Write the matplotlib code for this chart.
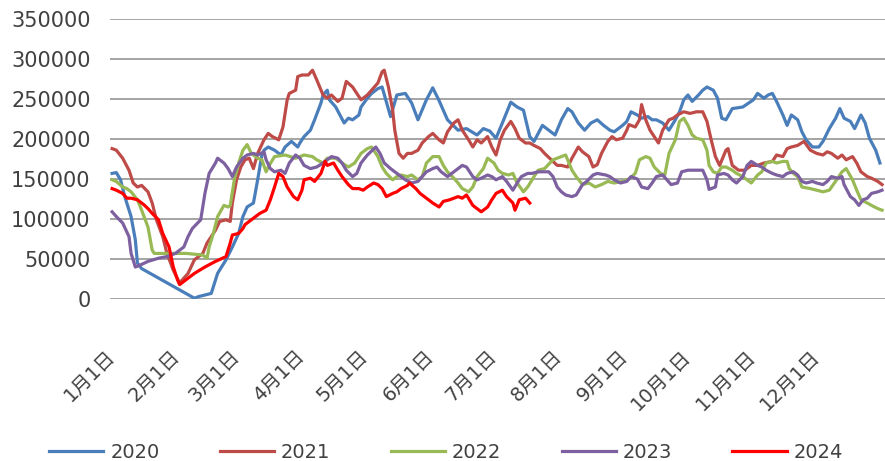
import numpy as np
import matplotlib
matplotlib.use("Agg")
import matplotlib.pyplot as plt

plt.rcParams['font.family'] = ['DejaVu Sans', 'Noto Sans CJK SC']

# day of year (0 = Jan 1) and values in thousands
days_2020 = [0, 2, 4, 6, 9, 11, 12, 14, 39, 41, 44, 47, 50, 54, 57, 60, 62, 64, 67, 69,
             71, 72, 74, 77, 80, 82, 85, 88, 89, 91, 94, 96, 99, 100, 102, 103, 106, 108, 110, 112,
             114, 117, 118, 121, 123, 126, 128, 132, 135, 139, 142, 145, 149, 152, 155, 159, 164, 168, 173, 176,
             179, 182, 185, 189, 192, 195, 198, 200, 204, 207, 210, 213, 216, 218, 221, 224, 227, 230, 233, 236,
             238, 242, 244, 246, 249, 251, 254, 256, 258, 261, 264, 267, 269, 271, 273, 275, 278, 280, 282, 285,
             287, 289, 291, 294, 299, 304, 306, 309, 311, 313, 315, 318, 320, 322, 325, 327, 329, 332, 335, 337,
             340, 343, 345, 347, 350, 352, 355, 357, 359, 362, 364]
vals_2020 = [157, 158, 149, 128, 103, 74, 45, 38, 1, 3, 5, 7, 32, 49, 65, 82, 103, 115, 120, 149,
             180, 186, 190, 186, 180, 190, 197, 190, 195, 203, 211, 224, 245, 255, 261, 249, 240, 230, 220, 226,
             224, 230, 240, 251, 257, 263, 265, 228, 255, 257, 245, 224, 249, 264, 248, 224, 211, 213, 205, 213,
             210, 201, 220, 246, 240, 236, 203, 197, 217, 211, 205, 224, 238, 234, 220, 211, 220, 224, 217, 211,
             209, 217, 222, 234, 230, 226, 228, 224, 224, 220, 211, 224, 234, 249, 255, 247, 255, 261, 265, 261,
             251, 226, 224, 238, 240, 249, 257, 251, 255, 257, 247, 230, 217, 230, 224, 209, 199, 190, 190, 197,
             213, 226, 238, 226, 222, 213, 230, 220, 201, 186, 170]

days_2021 = [0, 2, 5, 8, 10, 12, 14, 17, 19, 21, 24, 26, 29, 32, 36, 39, 43, 45, 49, 51,
             54, 56, 57, 59, 61, 63, 65, 67, 69, 72, 74, 76, 79, 81, 83, 84, 87, 88, 90, 93,
             95, 97, 100, 102, 104, 107, 109, 111, 114, 116, 118, 121, 123, 126, 128, 129, 131, 133, 134, 136,
             138, 140, 142, 145, 147, 150, 152, 155, 157, 159, 162, 164, 166, 169, 171, 173, 175, 178, 180, 182,
             184, 186, 189, 191, 193, 196, 198, 200, 203, 205, 209, 211, 213, 216, 218, 221, 223, 226, 228, 230,
             232, 235, 237, 239, 242, 244, 245, 248, 250, 251, 253, 255, 257, 259, 261, 264, 266, 268, 271, 274,
             277, 280, 282, 284, 286, 288, 291, 292, 294, 297, 300, 303, 306, 309, 313, 315, 318, 320, 322, 325,
             328, 331, 334, 337, 339, 341, 344, 346, 348, 351, 353, 355, 358, 360, 363, 365]
vals_2021 = [188, 186, 176, 161, 145, 140, 142, 134, 120, 99, 78, 57, 36, 20, 32, 49, 57, 70, 86, 97,
             99, 97, 120, 149, 165, 174, 176, 163, 182, 199, 207, 203, 199, 215, 249, 257, 261, 278, 280, 280,
             286, 274, 255, 251, 255, 247, 251, 272, 265, 257, 249, 255, 261, 270, 284, 286, 265, 236, 211, 182,
             176, 182, 182, 186, 195, 203, 207, 199, 195, 209, 220, 224, 211, 199, 190, 199, 195, 203, 190, 180,
             199, 211, 222, 213, 201, 195, 195, 192, 188, 182, 172, 167, 167, 165, 176, 190, 184, 178, 165, 168,
             182, 197, 203, 199, 201, 211, 218, 215, 224, 243, 224, 211, 203, 195, 211, 224, 226, 230, 234, 232,
             234, 234, 222, 199, 178, 167, 186, 188, 167, 161, 161, 167, 167, 170, 172, 180, 178, 188, 190, 192,
             197, 186, 182, 180, 184, 182, 176, 180, 174, 178, 170, 159, 153, 151, 147, 143]

days_2022 = [0, 2, 5, 7, 9, 12, 14, 17, 19, 20, 25, 30, 35, 39, 43, 45, 46, 48, 50, 53,
             55, 56, 58, 60, 62, 64, 66, 69, 71, 73, 74, 77, 82, 87, 91, 95, 97, 100, 102, 106,
             109, 112, 115, 118, 121, 123, 126, 128, 130, 133, 135, 137, 140, 142, 145, 147, 149, 152, 155, 157,
             159, 162, 164, 166, 169, 171, 173, 176, 178, 181, 183, 185, 188, 190, 192, 195, 197, 200, 202, 205,
             209, 211, 215, 218, 220, 223, 226, 229, 232, 235, 238, 242, 245, 248, 250, 253, 255, 257, 260, 262,
             264, 267, 269, 271, 273, 275, 277, 280, 282, 283, 285, 287, 289, 291, 294, 296, 299, 301, 303, 306,
             308, 310, 313, 315, 318, 320, 321, 323, 325, 327, 331, 334, 337, 340, 344, 346, 348, 351, 353, 355,
             358, 360, 363, 365]
vals_2022 = [149, 147, 140, 138, 134, 124, 111, 90, 61, 57, 57, 57, 57, 56, 55, 51, 65, 82, 103, 117,
             115, 117, 150, 170, 186, 193, 182, 176, 174, 159, 165, 178, 180, 176, 180, 178, 174, 170, 176, 176,
             170, 165, 170, 182, 188, 190, 178, 165, 157, 149, 153, 155, 153, 155, 149, 153, 170, 178, 178, 167,
             159, 151, 145, 138, 134, 140, 153, 163, 176, 170, 161, 157, 155, 157, 145, 134, 140, 153, 161, 163,
             174, 176, 180, 161, 153, 143, 145, 140, 143, 147, 145, 147, 150, 157, 174, 178, 176, 165, 157, 155,
             182, 199, 222, 226, 217, 205, 201, 199, 186, 167, 159, 157, 165, 165, 161, 157, 153, 149, 145, 155,
             159, 170, 172, 170, 172, 172, 163, 157, 153, 140, 138, 136, 134, 136, 151, 159, 163, 149, 136, 124,
             120, 117, 113, 111]

days_2023 = [0, 2, 5, 8, 9, 11, 13, 17, 22, 26, 30, 34, 36, 38, 42, 44, 46, 49, 50, 53,
             55, 57, 59, 62, 64, 67, 69, 72, 73, 75, 77, 80, 82, 84, 87, 89, 91, 94, 97, 100,
             102, 104, 107, 109, 111, 114, 116, 118, 121, 125, 127, 129, 132, 134, 136, 139, 142, 145, 147, 149,
             152, 154, 156, 159, 161, 164, 166, 168, 171, 173, 175, 178, 180, 182, 185, 187, 190, 192, 194, 197,
             199, 202, 204, 207, 209, 211, 213, 215, 218, 220, 223, 225, 228, 230, 234, 236, 238, 241, 244, 246,
             249, 251, 254, 256, 258, 261, 263, 265, 268, 270, 273, 276, 280, 282, 283, 286, 287, 290, 292, 294,
             296, 299, 301, 303, 306, 308, 310, 313, 315, 318, 320, 323, 325, 327, 329, 332, 334, 337, 339, 341,
             344, 346, 347, 350, 352, 354, 356, 358, 360, 363, 365]
vals_2023 = [109, 103, 95, 78, 57, 40, 42, 47, 51, 53, 57, 65, 78, 88, 99, 132, 157, 170, 176, 170,
             163, 153, 165, 176, 180, 182, 180, 184, 174, 163, 159, 161, 157, 170, 180, 176, 167, 163, 165, 170,
             174, 178, 176, 170, 161, 153, 157, 170, 180, 190, 182, 170, 163, 159, 155, 149, 145, 147, 153, 159,
             163, 165, 159, 153, 157, 163, 167, 165, 153, 149, 151, 155, 153, 149, 153, 147, 136, 145, 153, 157,
             157, 159, 159, 159, 153, 140, 134, 130, 128, 130, 143, 147, 155, 157, 155, 153, 149, 145, 147, 153,
             150, 140, 138, 145, 153, 155, 149, 143, 145, 159, 161, 161, 161, 149, 137, 140, 155, 157, 155, 149,
             145, 153, 167, 172, 167, 165, 161, 157, 155, 153, 157, 159, 155, 147, 145, 147, 145, 143, 147, 153,
             151, 153, 143, 128, 124, 117, 124, 126, 132, 134, 136]

days_2024 = [0, 2, 5, 7, 9, 12, 15, 17, 19, 22, 24, 27, 29, 31, 32, 35, 39, 44, 49, 54,
             56, 57, 60, 62, 63, 65, 68, 70, 73, 75, 77, 79, 81, 83, 86, 88, 90, 91, 94, 96,
             99, 101, 102, 105, 107, 109, 112, 114, 117, 119, 121, 124, 126, 128, 130, 133, 135, 137, 140, 141,
             144, 146, 149, 152, 155, 157, 160, 164, 166, 168, 171, 173, 175, 178, 180, 182, 185, 187, 190, 191,
             193, 196, 198]
vals_2024 = [138, 136, 132, 126, 126, 124, 118, 113, 107, 99, 82, 65, 40, 24, 18, 24, 32, 40, 47, 53,
             70, 80, 82, 88, 93, 97, 103, 107, 111, 124, 140, 157, 153, 140, 128, 124, 136, 149, 151, 147,
             157, 172, 167, 170, 161, 153, 143, 138, 138, 136, 140, 145, 143, 138, 128, 132, 134, 138, 142, 145,
             138, 132, 126, 120, 115, 122, 124, 128, 126, 130, 117, 113, 109, 115, 124, 132, 136, 128, 120, 111,
             124, 126, 120]

years = ['2020', '2021', '2022', '2023', '2024']
series_days = [days_2020, days_2021, days_2022, days_2023, days_2024]
series_vals = [vals_2020, vals_2021, vals_2022, vals_2023, vals_2024]
colors = ['#4a7ebb', '#be4b48', '#98b954', '#7d60a0', '#ff0000']

month_starts = [0, 31, 59, 90, 120, 151, 181, 212, 243, 273, 304, 334]
month_labels = [f'{m}月1日' for m in range(1, 13)]

fig = plt.figure(figsize=(8.85, 4.61), dpi=100)
ax = fig.add_axes([110 / 885, 1 - 299 / 461, 1 - 110 / 885, 280 / 461])

for yr, d, v, c in zip(years, series_days, series_vals, colors):
    ax.plot(d, np.array(v) * 1000, color=c, lw=2.3, label=yr, solid_joinstyle='round')

ax.set_xlim(-1, 366.4)
ax.set_ylim(0, 350000)
ax.set_yticks(np.arange(0, 350001, 50000))
ax.yaxis.grid(True, color='#8c8c8c', lw=1.1)
ax.set_axisbelow(True)
for s in ax.spines.values():
    s.set_visible(False)

ax.set_xticks(month_starts)
ax.set_xticklabels(month_labels, rotation=45, ha='right', va='center',
                   rotation_mode='anchor', fontsize=14, color='#404040')
ax.tick_params(axis='x', length=0, pad=39)
ax.tick_params(axis='y', length=0, pad=14, labelsize=15, labelcolor='#404040')

fig.legend(loc='center', bbox_to_anchor=(0.504, 0.018), ncol=5, frameon=False,
           fontsize=14, handlelength=2.8, handletextpad=0.35, columnspacing=3.1,
           labelcolor='#404040')

fig.savefig('out.png', dpi=100)
